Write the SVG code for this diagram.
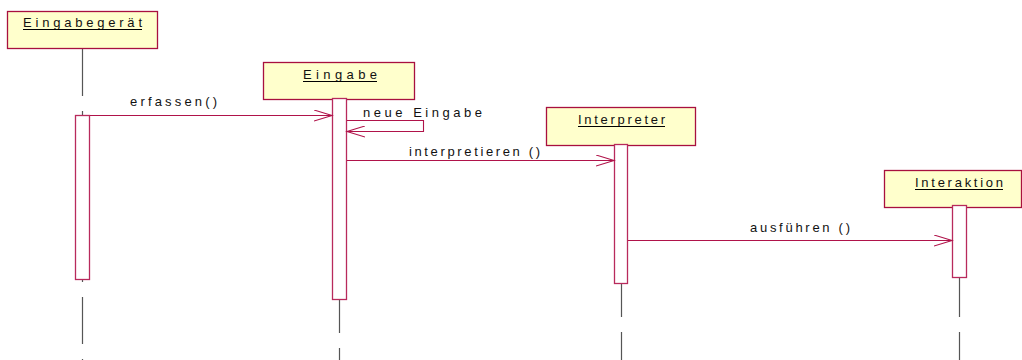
<svg xmlns="http://www.w3.org/2000/svg" width="1022" height="360" viewBox="0 0 1022 360">
<style>
.box{fill:#ffffcc;stroke:#a8103f;stroke-width:1.3}
.act{fill:#ffffff;stroke:#b82a5c;stroke-width:1.3}
.life{stroke:#555;stroke-width:1.2;stroke-dasharray:47 15;fill:none}
.msg{stroke:#b0134a;stroke-width:1.1;fill:none}
text{font-family:"Liberation Sans",Arial,sans-serif;font-size:13px;fill:#111}
.ul{stroke:#000;stroke-width:1}
</style>
<defs>
<marker id="arr" markerWidth="20" markerHeight="12" refX="18" refY="6" orient="auto" markerUnits="userSpaceOnUse">
<path d="M0,0.5 L18,6 L0,11.5" fill="none" stroke="#b0134a" stroke-width="1.1"/>
</marker>
</defs>
<g id="node-eingabegeraet">
<line class="life" x1="82.5" y1="49" x2="82.5" y2="360"/>
<rect class="box" x="7.5" y="11.5" width="150" height="37"/>
<text x="23" y="27" textLength="119" lengthAdjust="spacing">Eingabegerät</text>
<line class="ul" x1="23" y1="29.5" x2="142" y2="29.5"/>
<rect class="act" x="75.5" y="115.5" width="14" height="164"/>
</g>
<g id="node-eingabe">
<line class="life" x1="339.5" y1="100" x2="339.5" y2="360"/>
<rect class="box" x="263.5" y="62.5" width="151" height="37"/>
<text x="303" y="79" textLength="74" lengthAdjust="spacing">Eingabe</text>
<line class="ul" x1="303" y1="81.5" x2="377" y2="81.5"/>
<rect class="act" x="332.5" y="98.5" width="14" height="201"/>
</g>
<g id="node-interpreter">
<line class="life" x1="621.5" y1="146" x2="621.5" y2="360"/>
<rect class="box" x="546.5" y="107.5" width="149" height="38"/>
<text x="578" y="124" textLength="87" lengthAdjust="spacing">Interpreter</text>
<line class="ul" x1="578" y1="126.5" x2="665" y2="126.5"/>
<rect class="act" x="614.5" y="144.5" width="13" height="139"/>
</g>
<g id="node-interaktion">
<line class="life" x1="959.5" y1="208" x2="959.5" y2="360"/>
<rect class="box" x="884.5" y="170.5" width="137" height="37"/>
<text x="915" y="187" textLength="88" lengthAdjust="spacing">Interaktion</text>
<line class="ul" x1="915" y1="189.5" x2="1003" y2="189.5"/>
<rect class="act" x="952.5" y="205.5" width="14" height="72"/>
</g>
<g id="connectors">
<line class="msg" x1="90" y1="115.5" x2="332" y2="115.5" marker-end="url(#arr)"/>
<text x="130" y="106" textLength="87" lengthAdjust="spacing">erfassen()</text>
<polyline class="msg" points="347,120.5 423.5,120.5 423.5,131.5 347,131.5" marker-end="url(#arr)"/>
<text x="363" y="117" textLength="119" lengthAdjust="spacing">neue Eingabe</text>
<line class="msg" x1="347" y1="160.5" x2="614" y2="160.5" marker-end="url(#arr)"/>
<text x="409" y="156" textLength="131" lengthAdjust="spacing">interpretieren ()</text>
<line class="msg" x1="628" y1="240.5" x2="952" y2="240.5" marker-end="url(#arr)"/>
<text x="750" y="232" textLength="100" lengthAdjust="spacing">ausführen ()</text>
</g>
</svg>
